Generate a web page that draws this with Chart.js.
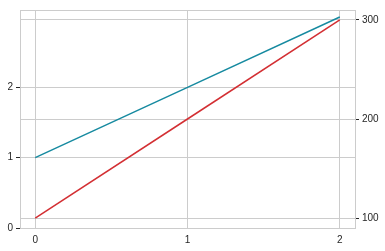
<!DOCTYPE html>
<html>
<head>
<meta charset="utf-8">
<script src="https://cdn.jsdelivr.net/npm/chart.js@4/dist/chart.umd.min.js"></script>
<style>
  html, body { margin: 0; padding: 0; background: #fff; }
  #wrap { width: 385px; height: 251px; }
</style>
</head>
<body>
<div id="wrap"><canvas id="chart"></canvas></div>
<script>
const xValues = [0, 1, 2];
const leftValues = [1, 2, 3];
const rightValues = [100, 200, 300];
const xTicks = [0, 1, 2];
const leftTicks = [0, 1, 2];
const rightTicks = [100, 200, 300];

const gridColor = '#cccccc';
const textColor = '#262626';
const tickFont = { family: 'Liberation Sans', size: 10 };

// 그래프 영역 테두리
const frame = {
  id: 'frame',
  afterDraw(chart) {
    const { ctx, chartArea: a } = chart;
    ctx.save();
    ctx.strokeStyle = gridColor;
    ctx.lineWidth = 1;
    ctx.strokeRect(Math.round(a.left) + 0.5, Math.round(a.top) + 0.5,
      Math.round(a.right - a.left), Math.round(a.bottom - a.top));
    ctx.restore();
  }
};

new Chart(document.getElementById('chart'), {
  type: 'line',
  data: {
    datasets: [
      {
        data: xValues.map((x, i) => ({ x: x, y: leftValues[i] })),
        borderColor: '#168aa0',
        borderWidth: 1.5,
        pointRadius: 0,
        yAxisID: 'y'
      },
      {
        data: xValues.map((x, i) => ({ x: x, y: rightValues[i] })),
        borderColor: '#d32f33',
        borderWidth: 1.5,
        pointRadius: 0,
        yAxisID: 'y2'
      }
    ]
  },
  options: {
    responsive: true,
    maintainAspectRatio: false,
    animation: false,
    layout: { padding: { top: 10 } },
    plugins: {
      legend: { display: false },
      tooltip: { enabled: false }
    },
    scales: {
      x: {
        type: 'linear',
        min: -0.1,
        max: 2.1,
        afterBuildTicks: s => { s.ticks = xTicks.map(v => ({ value: v })); },
        afterFit: s => { s.height = 23; },
        grid: { color: gridColor, drawTicks: false },
        border: { display: false },
        ticks: { color: textColor, font: tickFont, padding: 6 }
      },
      y: {
        position: 'left',
        min: 0,
        max: 3.1,
        afterBuildTicks: s => { s.ticks = leftTicks.map(v => ({ value: v })); },
        afterFit: s => { s.width = 20; },
        grid: { color: gridColor, tickColor: textColor, tickLength: 4 },
        border: { display: false },
        ticks: { color: textColor, font: tickFont, padding: 3 }
      },
      y2: {
        position: 'right',
        min: 90,
        max: 310,
        afterBuildTicks: s => { s.ticks = rightTicks.map(v => ({ value: v })); },
        afterFit: s => { s.width = 30; },
        grid: { color: gridColor, tickColor: textColor, tickLength: 4 },
        border: { display: false },
        ticks: { color: textColor, font: tickFont, padding: 3 }
      }
    }
  },
  plugins: [frame]
});
</script>
</body>
</html>
